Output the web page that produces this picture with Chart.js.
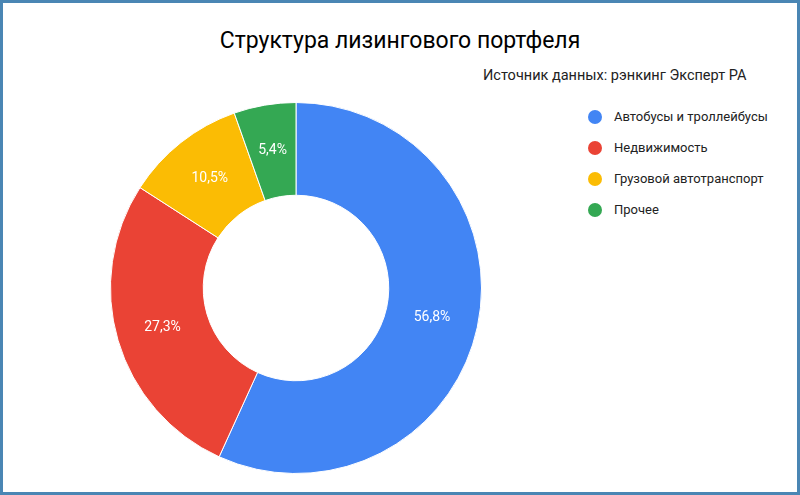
<!DOCTYPE html>
<html><head><meta charset="utf-8">
<script src="https://cdn.jsdelivr.net/npm/chart.js@4"></script>
<style>
html,body{margin:0;padding:0;}
body{width:800px;height:495px;box-sizing:border-box;border:3px solid #4a86b4;position:relative;font-family:Roboto,sans-serif;background:#fff;overflow:hidden;}
#title{position:absolute;left:0;width:794px;top:24px;text-align:center;font-size:23px;color:#000;}
#source{position:absolute;left:480px;top:64px;font-size:14.5px;color:#222;}
#legend{position:absolute;left:585px;top:98px;font-size:13px;color:#222;}
#legend div{height:31px;display:flex;align-items:center;}
#legend span.dot{width:14px;height:14px;border-radius:50%;display:inline-block;margin-right:12px;}
#box{position:absolute;left:105px;top:97px;width:376px;height:376px;}
</style></head><body>
<div id="title">Структура лизингового портфеля</div>
<div id="source">Источник данных: рэнкинг Эксперт РА</div>
<div id="legend"></div>
<div id="box"><canvas id="chart"></canvas></div>
<script>
const categories = ['Автобусы и троллейбусы', 'Недвижимость', 'Грузовой автотранспорт', 'Прочее'];
const shares = [56.8, 27.3, 10.5, 5.4];
const colors = ['#4285f4', '#ea4335', '#fbbc04', '#34a853'];

const legend = document.getElementById('legend');
categories.forEach((c, i) => {
    const row = document.createElement('div');
    row.innerHTML = '<span class="dot" style="background:' + colors[i] + '"></span>' + c;
    legend.appendChild(row);
});

const sliceLabels = {
    id: 'sliceLabels',
    afterDatasetsDraw(chart) {
        const ctx = chart.ctx;
        ctx.save();
        ctx.fillStyle = '#fff';
        ctx.font = '14px Roboto';
        ctx.textAlign = 'center';
        ctx.textBaseline = 'middle';
        chart.getDatasetMeta(0).data.forEach((arc, i) => {
            const p = arc.tooltipPosition();
            ctx.fillText(shares[i].toFixed(1).replace('.', ',') + '%', p.x, p.y);
        });
        ctx.restore();
    }
};

new Chart(document.getElementById('chart'), {
    type: 'doughnut',
    data: {
        labels: categories,
        datasets: [{ data: shares, backgroundColor: colors, borderColor: '#fff', borderWidth: 1 }]
    },
    options: {
        responsive: true, maintainAspectRatio: false, animation: false,
        cutout: '50%',
        layout: { padding: 2 },
        plugins: { legend: { display: false }, tooltip: { enabled: false } }
    },
    plugins: [sliceLabels]
});
</script>
</body></html>
